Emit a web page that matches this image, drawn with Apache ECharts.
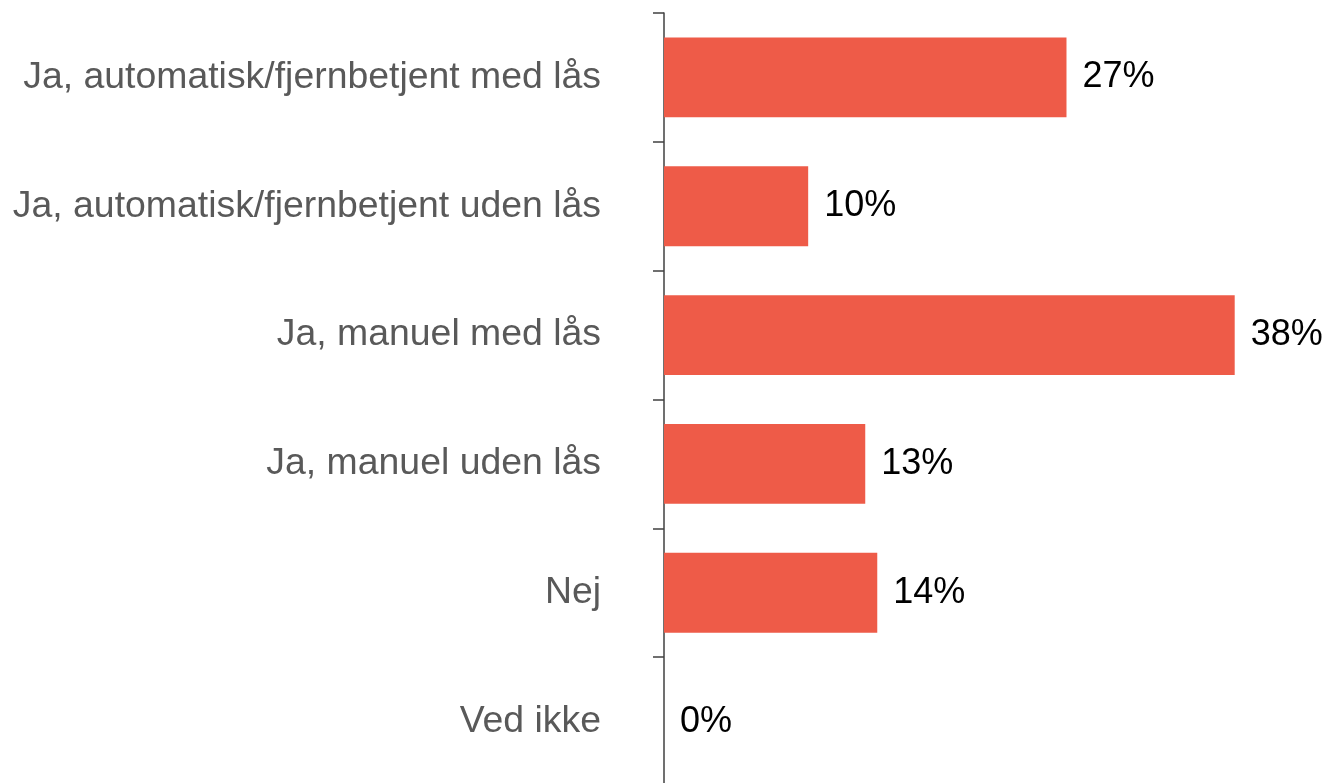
<!DOCTYPE html>
<html>
<head>
<meta charset="utf-8">
<script src="https://cdn.jsdelivr.net/npm/echarts@6/dist/echarts.min.js"></script>
<style>
html,body{margin:0;padding:0;background:#fff;}
#chart{width:1331px;height:783px;}
</style>
</head>
<body>
<div id="chart"></div>
<script>
const categories = [
  "Ja, automatisk/fjernbetjent med lås",
  "Ja, automatisk/fjernbetjent uden lås",
  "Ja, manuel med lås",
  "Ja, manuel uden lås",
  "Nej",
  "Ved ikke"
];
const values = [26.8, 9.6, 38.0, 13.4, 14.2, 0];
const valueLabels = ["27%", "10%", "38%", "13%", "14%", "0%"];

const chart = echarts.init(document.getElementById('chart'), null, {renderer: 'canvas'});
chart.setOption({
  animation: false,
  backgroundColor: '#ffffff',
  grid: {left: 664, width: 570.7, top: 13, height: 773, containLabel: false, outerBoundsMode: 'none'},
  xAxis: {
    type: 'value', min: 0, max: 38,
    show: false
  },
  yAxis: {
    type: 'category',
    data: categories,
    inverse: true,
    axisLine: {show: true, lineStyle: {color: '#404040', width: 1.5}},
    axisTick: {show: true, length: 11, alignWithLabel: false, lineStyle: {color: '#404040', width: 1.5}},
    axisLabel: {
      margin: 63,
      color: '#595959',
      fontFamily: 'Liberation Sans, Arial, sans-serif',
      fontSize: 37.4
    },
    splitLine: {show: false}
  },
  series: [{
    type: 'bar',
    data: values,
    barCategoryGap: '38%',
    itemStyle: {color: '#EE5B48'},
    label: {
      show: true,
      position: 'right',
      distance: 16,
      color: '#000000',
      fontFamily: 'Liberation Sans, Arial, sans-serif',
      fontSize: 36,
      formatter: p => valueLabels[p.dataIndex]
    }
  }]
});
</script>
</body>
</html>
